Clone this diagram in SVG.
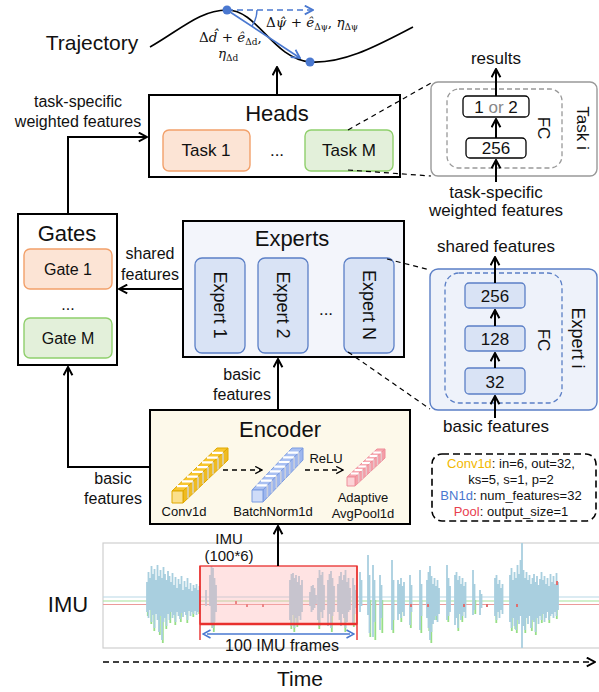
<svg xmlns="http://www.w3.org/2000/svg" width="599" height="692" viewBox="0 0 599 692">
<defs>
<style>
text{font-family:"Liberation Sans",Arial,sans-serif;fill:#111}
.t22{font-size:22px;text-anchor:middle}
.t17{font-size:17px;text-anchor:middle}
.t16{font-size:16px;text-anchor:middle}
.t13{font-size:13px;text-anchor:middle}
.main{fill:#fff;stroke:#000;stroke-width:2}
.orange{fill:#fce4d5;stroke:#f2a06a;stroke-width:1.4}
.green{fill:#e3f0da;stroke:#8fcf6c;stroke-width:1.4}
.exp{fill:#d9e3f5;stroke:#5b7fc6;stroke-width:1.3}
.line{fill:none;stroke:#000;stroke-width:2}
.dash{fill:none;stroke:#000;stroke-width:1.2;stroke-dasharray:5 4}
.math{font-family:"DejaVu Serif","Liberation Serif",serif;font-size:13.5px}
</style>
<marker id="arr" viewBox="0 0 10 10" refX="9" refY="5" markerWidth="11" markerHeight="11" markerUnits="userSpaceOnUse" orient="auto">
<path d="M1.5,1 L9,5 L1.5,9" fill="none" stroke="#000" stroke-width="1.8"/>
</marker>
<marker id="arrB" viewBox="0 0 10 10" refX="9" refY="5" markerWidth="11" markerHeight="11" markerUnits="userSpaceOnUse" orient="auto">
<path d="M1.5,1 L9,5 L1.5,9" fill="none" stroke="#4a78d0" stroke-width="1.6"/>
</marker>
<marker id="arrB2" viewBox="0 0 10 10" refX="5" refY="5" markerWidth="10" markerHeight="10" markerUnits="userSpaceOnUse" orient="auto-start-reverse">
<path d="M1.5,1 L9,5 L1.5,9" fill="none" stroke="#4a78d0" stroke-width="1.6"/>
</marker>
<marker id="arrS" viewBox="0 0 10 10" refX="9" refY="5" markerWidth="9" markerHeight="9" markerUnits="userSpaceOnUse" orient="auto">
<path d="M1.5,1 L9,5 L1.5,9" fill="none" stroke="#000" stroke-width="1.4"/>
</marker>
</defs>

<!-- trajectory -->
<g id="trajectory">
<text x="92" y="50" class="t22" style="font-size:21px">Trajectory</text>
<path d="M150,47 C180,30 200,10 227,10 C258,10 272,58 310,62 C345,64 380,44 413,27" fill="none" stroke="#000" stroke-width="1.6"/>
<line x1="227" y1="10" x2="313" y2="10" stroke="#4a78d0" stroke-width="1.5" stroke-dasharray="6 4" marker-end="url(#arrB)"/>
<line x1="227" y1="10" x2="300" y2="58" stroke="#4a78d0" stroke-width="1.6" marker-end="url(#arrB)"/>
<path d="M257,10 A30,30 0 0 1 252,26" fill="none" stroke="#4a78d0" stroke-width="1.4"/>
<circle cx="227" cy="10" r="4.5" fill="#4a78d0"/>
<circle cx="310" cy="62" r="4.5" fill="#4a78d0"/>
<text x="266" y="27" class="math">Δ<tspan font-style="italic">ψ̂</tspan> + <tspan font-style="italic">ê</tspan><tspan font-size="9" dy="3">Δψ</tspan><tspan dy="-3">, </tspan><tspan font-style="italic">η</tspan><tspan font-size="9" dy="3">Δψ</tspan></text>
<text x="199" y="42" class="math">Δ<tspan font-style="italic">d̂</tspan> + <tspan font-style="italic">ê</tspan><tspan font-size="9" dy="3">Δd</tspan><tspan dy="-3">,</tspan></text>
<text x="218" y="58" class="math"><tspan font-style="italic">η</tspan><tspan font-size="9" dy="3">Δd</tspan></text>
</g>

<!-- heads -->
<g id="heads">
<rect x="149" y="95" width="251" height="82" class="main"/>
<text x="277" y="121" class="t22">Heads</text>
<rect x="163" y="130" width="87" height="41" rx="6" class="orange"/>
<text x="206" y="156" class="t17">Task 1</text>
<text x="277" y="156" class="t17">...</text>
<rect x="305" y="130" width="88" height="41" rx="6" class="green"/>
<text x="349" y="156" class="t17">Task M</text>
</g>

<!-- task i detail -->
<g id="task-i">
<rect x="431" y="82" width="166" height="94" rx="7" fill="#fff" stroke="#999" stroke-width="1.4"/>
<rect x="447" y="89" width="115" height="79" rx="12" fill="none" stroke="#999" stroke-width="1.3" stroke-dasharray="5 3"/>
<rect x="463" y="96" width="66" height="21" rx="4" fill="#fff" stroke="#000" stroke-width="1.3"/>
<text x="496" y="113" class="t17">1 <tspan fill="#888">or</tspan> 2</text>
<rect x="466" y="138" width="60" height="20" rx="4" fill="#fff" stroke="#000" stroke-width="1.3"/>
<text x="496" y="154" class="t17">256</text>
<text class="t17" transform="translate(543,128) rotate(90)" dominant-baseline="central">FC</text>
<text class="t17" transform="translate(582,128) rotate(90)" dominant-baseline="central">Task i</text>
<text x="496" y="64" class="t17">results</text>
<text x="496" y="198" class="t17">task-specific</text>
<text x="496" y="216" class="t17">weighted features</text>
</g>

<!-- gates -->
<g id="gates">
<rect x="18" y="214" width="99" height="151" class="main"/>
<text x="67" y="241" class="t22">Gates</text>
<rect x="24" y="249" width="88" height="40" rx="6" class="orange"/>
<text x="68" y="275" class="t16">Gate 1</text>
<text x="68" y="310" class="t16">...</text>
<rect x="24" y="318" width="88" height="40" rx="6" class="green"/>
<text x="68" y="344" class="t16">Gate M</text>
</g>

<!-- experts -->
<g id="experts">
<rect x="183" y="221" width="221" height="136" fill="#f3f5fb" stroke="#000" stroke-width="2"/>
<text x="292" y="246" class="t22">Experts</text>
<rect x="195" y="258" width="50" height="95" rx="7" class="exp"/>
<text class="t17" style="font-size:18px" transform="translate(220,305) rotate(90)" dominant-baseline="central">Expert 1</text>
<rect x="258" y="258" width="50" height="95" rx="7" class="exp"/>
<text class="t17" style="font-size:18px" transform="translate(283,305) rotate(90)" dominant-baseline="central">Expert 2</text>
<text x="326" y="315" class="t17">...</text>
<rect x="344" y="258" width="50" height="95" rx="7" class="exp"/>
<text class="t17" style="font-size:18px" transform="translate(369,305) rotate(90)" dominant-baseline="central">Expert N</text>
</g>

<!-- expert i detail -->
<g id="expert-i">
<rect x="430" y="269" width="167" height="141" rx="8" fill="#eef2fa" stroke="#5b7fc6" stroke-width="1.4"/>
<rect x="445" y="273" width="117" height="130" rx="14" fill="none" stroke="#5b7fc6" stroke-width="1.3" stroke-dasharray="5 3"/>
<rect x="465" y="283" width="60" height="25" rx="4" class="exp"/>
<text x="495" y="302" class="t17">256</text>
<rect x="465" y="326" width="60" height="25" rx="4" class="exp"/>
<text x="495" y="345" class="t17">128</text>
<rect x="465" y="368" width="60" height="26" rx="4" class="exp"/>
<text x="495" y="388" class="t17">32</text>
<text class="t17" transform="translate(543,340) rotate(90)" dominant-baseline="central">FC</text>
<text class="t17" style="font-size:18px" transform="translate(578,338) rotate(90)" dominant-baseline="central">Expert i</text>
<text x="496" y="252" class="t17">shared features</text>
<text x="496" y="432" class="t17">basic features</text>
</g>

<!-- encoder -->
<g id="encoder">
<rect x="150" y="410" width="260" height="114" fill="#fdf9ea" stroke="#000" stroke-width="2"/>
<text x="280" y="437" class="t22">Encoder</text>
<!-- Conv1d block -->
<g stroke="#e0a800" stroke-width="1" stroke-linejoin="round">
<polygon points="172,491 183,491 228,448 217,448" fill="#f8c630"/>
<polygon points="183,491 183,503 228,460 228,448" fill="#efbb22"/>
<g stroke="#fff" stroke-width="2.2"><path d="M177,486.2 H188 M182,481.4 H193 M187,476.7 H198 M192,471.9 H203 M197,467.1 H208 M202,462.3 H213 M207,457.6 H218 M212,452.8 H223"/></g>
<g stroke="#d9d2b8" stroke-width="1.6"><path d="M188,486.2 V498.2 M193,481.4 V493.4 M198,476.7 V488.7 M203,471.9 V483.9 M208,467.1 V479.1 M213,462.3 V474.3 M218,457.6 V469.6 M223,452.8 V464.8"/></g>
<rect x="172" y="491" width="11" height="12" fill="#fbe08c"/>
</g>
<!-- BatchNorm1d block -->
<g stroke="#7b9be0" stroke-width="1" stroke-linejoin="round">
<polygon points="252,490 263,490 303,448 292,448" fill="#a9c0f2"/>
<polygon points="263,490 263,502 303,460 303,448" fill="#9db6ee"/>
<g stroke="#fff" stroke-width="2.2"><path d="M256.4,485.3 H267.4 M260.9,480.7 H271.9 M265.3,476 H276.3 M269.8,471.3 H280.8 M274.2,466.7 H285.2 M278.7,462 H289.7 M283.1,457.3 H294.1 M287.6,452.7 H298.6"/></g>
<g stroke="#c8cede" stroke-width="1.6"><path d="M267.4,485.3 V497.3 M271.9,480.7 V492.7 M276.3,476 V488 M280.8,471.3 V483.3 M285.2,466.7 V478.7 M289.7,462 V474 M294.1,457.3 V469.3 M298.6,452.7 V464.7"/></g>
<rect x="252" y="490" width="11" height="12" fill="#cfdcf8"/>
</g>
<!-- pooling block -->
<g stroke="#ee8f9a" stroke-width="1" stroke-linejoin="round">
<polygon points="347,477 355,477 385,449 377,449" fill="#f7aab2"/>
<polygon points="355,477 355,486 385,458 385,449" fill="#f49ea8"/>
<g stroke="#fff" stroke-width="1.8"><path d="M350.8,473.5 H358.8 M354.5,470 H362.5 M358.3,466.5 H366.3 M362,463 H370 M365.8,459.5 H373.8 M369.5,456 H377.5 M373.3,452.5 H381.3"/></g>
<g stroke="#e6c8cc" stroke-width="1.3"><path d="M358.8,473.5 V482.5 M362.5,470 V479 M366.3,466.5 V475.5 M370,463 V472 M373.8,459.5 V468.5 M377.5,456 V465 M381.3,452.5 V461.5"/></g>
<rect x="347" y="477" width="8" height="9" fill="#fcd3d7"/>
</g>
<line x1="223" y1="470" x2="262" y2="470" stroke="#000" stroke-width="1.3" stroke-dasharray="5 4" marker-end="url(#arrS)"/>
<line x1="305" y1="470" x2="343" y2="470" stroke="#000" stroke-width="1.3" stroke-dasharray="5 4" marker-end="url(#arrS)"/>
<text x="184" y="516" class="t13">Conv1d</text>
<text x="273" y="516" class="t13">BatchNorm1d</text>
<text x="326" y="463" class="t13">ReLU</text>
<text x="363" y="502" class="t13">Adaptive</text>
<text x="363" y="518" class="t13">AvgPool1d</text>
</g>

<!-- layer settings -->
<g id="legend">
<rect x="432" y="454" width="164" height="67" rx="10" fill="#fff" stroke="#000" stroke-width="1.6" stroke-dasharray="7 4"/>
<text x="511" y="468" class="t13"><tspan fill="#f2b800">Conv1d</tspan>: in=6, out=32,</text>
<text x="511" y="484" class="t13">ks=5, s=1, p=2</text>
<text x="511" y="500" class="t13"><tspan fill="#4a78d0">BN1d</tspan>: num_features=32</text>
<text x="511" y="516" class="t13"><tspan fill="#e8404f">Pool</tspan>: output_size=1</text>
</g>

<!-- imu signal -->
<g id="imu">
<text x="68" y="612" class="t22">IMU</text>
<rect x="103" y="543" width="500" height="105" fill="#fff" stroke="#cfcfcf" stroke-width="1.2"/>
<line x1="103" y1="597" x2="599" y2="597" stroke="#b7d8e6" stroke-width="1.2"/>
<line x1="103" y1="601" x2="599" y2="601" stroke="#a6e39b" stroke-width="1.2"/>
<line x1="103" y1="604.5" x2="599" y2="604.5" stroke="#ec9a9a" stroke-width="1.2"/>
<path fill="none" stroke="#98df86" stroke-width="1.8" d="M147.8,600V616 M151.3,600V624 M154.3,600V631 M159.8,600V635 M162.8,600V643 M166.3,600V629 M170.3,600V623 M175.3,600V625 M180.8,600V622 M187.3,600V623 M193.3,600V617 M199.3,600V614 M212.3,600V628 M213.8,600V632 M291.3,600V629 M294.3,600V632 M297.3,600V627 M319.3,600V629 M331.8,600V632 M345.3,600V632 M353.8,600V627 M370.3,600V637 M375.3,600V640 M382.3,600V633 M393.3,600V633 M401.3,600V622 M410.8,600V628 M421.3,600V633 M429.3,600V631 M431.3,600V643 M436.3,600V620 M448.3,600V622 M458.3,600V631 M462.3,600V622 M475.3,600V614 M496.3,600V623 M511.8,600V631 M515.3,600V629 M516.8,600V633 M525.3,600V633 M531.8,600V631 M535.8,600V635 M541.8,600V623 M549.3,600V623 M556.8,600V619"/>
<path fill="none" stroke="#a9cfdf" stroke-width="1.8" d="M147,582V612 M148.5,572V618 M150,578V610 M151.5,566V622 M153,574V615 M154.5,569V628 M156,580V614 M157.5,565V620 M159,576V632 M160.5,570V616 M162,578V640 M163.5,567V622 M165,574V618 M166.5,580V626 M168,571V614 M169.5,576V620 M171,582V612 M172.5,573V618 M174,585V615 M175.5,577V622 M177,588V612 M178.5,579V616 M180,584V619 M181.5,576V613 M183,590V617 M184.5,581V612 M186,587V615 M187.5,578V620 M189,589V611 M190.5,583V616 M192,591V612 M193.5,585V614 M195,588V611 M196.5,584V615 M198,590V612 M199.5,586V610 M206,590V606 M210,575V606 M211.5,566V624 M213,568V628 M214.5,578V622 M216,585V612 M290,580V620 M291.5,574V626 M293,573V615 M294.5,578V628 M296,575V618 M297.5,582V624 M299,576V616 M300.5,585V620 M302,580V612 M310,592V606 M311.5,586V612 M313,585V610 M314.5,588V608 M316,595V604 M318,578V620 M319.5,570V626 M321,575V612 M322.5,572V618 M324,585V610 M328,580V626 M329.5,574V614 M331,571V628 M332.5,578V616 M334,586V612 M338,584V612 M339.5,576V620 M341,572V626 M342.5,580V614 M344,575V618 M345.5,570V628 M347,582V622 M348.5,578V612 M350,588V610 M353,578V624 M354.5,585V614 M356,590V608 M360,572V612 M361.5,580V606 M368,555V615 M369.5,575V633 M373,565V637 M374.5,580V622 M380,575V630 M381.5,585V618 M392,560V630 M393.5,580V620 M398,580V620 M399.5,584V614 M401,578V618 M402.5,586V612 M404,582V616 M410,575V625 M411.5,585V612 M420,570V630 M421.5,584V616 M427,580V618 M428.5,572V628 M430,566V640 M431.5,576V632 M433,584V624 M434.5,578V620 M436,586V616 M437.5,580V622 M439,588V614 M447,565V620 M448.5,578V616 M450,586V612 M455,575V625 M456.5,572V618 M458,580V628 M459.5,576V614 M461,584V620 M462.5,578V616 M464,586V612 M465.5,582V618 M473,570V615 M474.5,584V610 M480,590V615 M481.5,594V608 M495,578V616 M496.5,575V620 M498,584V612 M499.5,580V618 M501,588V610 M502.5,584V614 M510,575V622 M511.5,568V628 M513,580V618 M514.5,572V626 M516,578V630 M517.5,565V620 M519,574V624 M520.5,560V616 M522,543V648 M523.5,570V626 M525,578V630 M526.5,572V618 M528,580V624 M529.5,575V616 M531,584V628 M532.5,578V620 M534,574V622 M535.5,582V632 M537,576V618 M538.5,585V624 M540,579V616 M541.5,572V620 M543,580V614 M544.5,576V622 M546,584V618 M547.5,578V612 M549,586V620 M550.5,574V616 M552,582V614 M553.5,576V618 M555,584V612 M556.5,573V616 M558,582V610"/>
<path fill="none" stroke="#e07070" stroke-width="2" d="M236,601V604 M247,604V607 M263,604V607 M411,604V607 M428,604V607 M464,604V607 M487,604V607 M557,581V585 M517,604V607"/>
<!-- selected window -->
<rect x="200" y="566" width="157" height="58" fill="#ffb0b0" fill-opacity="0.35" stroke="#e8302e" stroke-width="1.3"/>
<line x1="200" y1="624" x2="357" y2="624" stroke="#e8302e" stroke-width="2.4"/>
<line x1="200" y1="566" x2="200" y2="640" stroke="#e8302e" stroke-width="1.4"/>
<line x1="357" y1="566" x2="357" y2="640" stroke="#e8302e" stroke-width="1.4"/>
<line x1="207" y1="634" x2="350" y2="634" stroke="#4a78d0" stroke-width="1.5" marker-start="url(#arrB2)" marker-end="url(#arrB2)"/>
<text x="282" y="651" class="t16">100 IMU frames</text>
<text x="229" y="544" class="t16" style="font-size:15px">IMU</text>
<text x="229" y="561" class="t16" style="font-size:15px">(100*6)</text>
</g>

<!-- time axis -->
<g id="time">
<line x1="103" y1="662" x2="595" y2="662" stroke="#000" stroke-width="1.4" stroke-dasharray="6 4" marker-end="url(#arr)"/>
<text x="300" y="686" class="t22" style="font-size:21px">Time</text>
</g>

<!-- connectors -->
<g id="connectors">
<line x1="278" y1="566" x2="278" y2="526" class="line" marker-end="url(#arr)"/>
<line x1="278" y1="410" x2="278" y2="359" class="line" marker-end="url(#arr)"/>
<polyline points="150,467 68,467 68,367" class="line" marker-end="url(#arr)"/>
<line x1="183" y1="289" x2="119" y2="289" class="line" marker-end="url(#arr)"/>
<polyline points="68,214 68,137 147,137" class="line" marker-end="url(#arr)"/>
<line x1="277" y1="95" x2="277" y2="67" class="line" marker-end="url(#arr)"/>
<line x1="496" y1="96" x2="496" y2="69" class="line" marker-end="url(#arr)"/>
<line x1="496" y1="138" x2="496" y2="119" class="line" marker-end="url(#arr)"/>
<line x1="496" y1="182" x2="496" y2="160" class="line" marker-end="url(#arr)"/>
<line x1="495" y1="283" x2="495" y2="257" class="line" marker-end="url(#arr)"/>
<line x1="495" y1="326" x2="495" y2="310" class="line" marker-end="url(#arr)"/>
<line x1="495" y1="368" x2="495" y2="353" class="line" marker-end="url(#arr)"/>
<line x1="495" y1="418" x2="495" y2="396" class="line" marker-end="url(#arr)"/>
<line x1="348" y1="130" x2="431" y2="83" class="dash"/>
<line x1="348" y1="170" x2="431" y2="176" class="dash"/>
<line x1="387" y1="259" x2="430" y2="270" class="dash"/>
<line x1="348" y1="352" x2="430" y2="409" class="dash"/>
<text x="78" y="107" class="t16">task-specific</text>
<text x="78" y="127" class="t16">weighted features</text>
<text x="150" y="259" class="t16">shared</text>
<text x="150" y="280" class="t16">features</text>
<text x="242" y="380" class="t16">basic</text>
<text x="242" y="400" class="t16">features</text>
<text x="113" y="484" class="t16">basic</text>
<text x="113" y="504" class="t16">features</text>
</g>
</svg>
